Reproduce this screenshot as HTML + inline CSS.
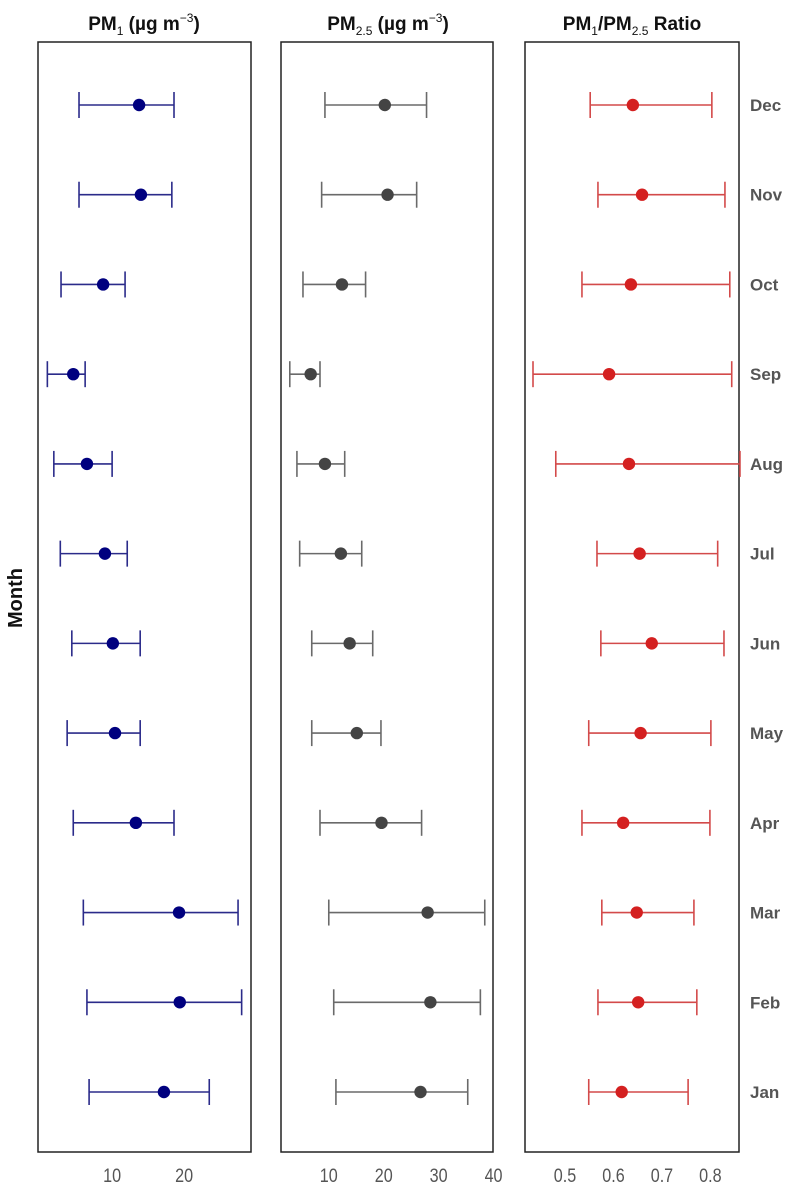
<!DOCTYPE html>
<html><head><meta charset="utf-8"><style>
body{margin:0;background:#fff;}
svg{display:block;font-family:"Liberation Sans",sans-serif;}
</style></head><body>
<svg id="chart" width="800" height="1191">
<text x="22" y="598" transform="rotate(-90 22 598)" text-anchor="middle" font-size="20" font-weight="bold" fill="#111">Month</text>
<text x="144" y="30" text-anchor="middle" font-size="19" font-weight="bold" fill="#111">PM<tspan font-size="12" font-weight="normal" dy="5">1</tspan><tspan dy="-5"> (µg m</tspan><tspan font-size="12" font-weight="normal" dy="-8">−3</tspan><tspan dy="8">)</tspan></text>
<text x="388" y="30" text-anchor="middle" font-size="19" font-weight="bold" fill="#111">PM<tspan font-size="12" font-weight="normal" dy="5">2.5</tspan><tspan dy="-5"> (µg m</tspan><tspan font-size="12" font-weight="normal" dy="-8">−3</tspan><tspan dy="8">)</tspan></text>
<text x="632" y="30" text-anchor="middle" font-size="19" font-weight="bold" fill="#111">PM<tspan font-size="12" font-weight="normal" dy="5">1</tspan><tspan dy="-5">/PM</tspan><tspan font-size="12" font-weight="normal" dy="5">2.5</tspan><tspan dy="-5"> Ratio</tspan></text>
</svg>
<script>
const months = ["Dec","Nov","Oct","Sep","Aug","Jul","Jun","May","Apr","Mar","Feb","Jan"];
const pm1Low  = [5.4,5.4,2.9,1.0,1.9,2.8,4.4,3.75,4.6,6.0,6.5,6.8];
const pm1Mean = [13.75,14.0,8.75,4.6,6.5,9.0,10.1,10.4,13.3,19.3,19.4,17.2];
const pm1High = [18.6,18.3,11.8,6.25,10.0,12.1,13.9,13.9,18.6,27.5,28.0,23.5];
const pm25Low  = [9.3,8.7,5.3,2.9,4.2,4.7,6.9,6.9,8.4,10.0,10.9,11.3];
const pm25Mean = [20.2,20.7,12.4,6.7,9.3,12.2,13.8,15.1,19.6,28.0,28.5,26.7];
const pm25High = [27.8,26.0,16.7,8.4,12.9,16.0,18.0,19.5,26.9,38.4,37.6,35.3];
const ratioLow  = [0.552,0.568,0.535,0.434,0.481,0.566,0.574,0.549,0.535,0.576,0.568,0.549];
const ratioMean = [0.640,0.659,0.636,0.591,0.632,0.654,0.679,0.656,0.620,0.648,0.651,0.617];
const ratioHigh = [0.803,0.830,0.840,0.844,0.861,0.815,0.828,0.801,0.799,0.766,0.772,0.754];
const pm1Ticks = [10,20];
const pm25Ticks = [10,20,30,40];
const ratioTicks = [0.5,0.6,0.7,0.8];

const svg = document.getElementById('chart');
const NS = 'http://www.w3.org/2000/svg';
const top0 = 42, bot0 = 1152;
function yPos(i){ return 105 + i*(1092-105)/(months.length-1); }
function mk(tag, attrs){ const e=document.createElementNS(NS,tag); for(const k in attrs) e.setAttribute(k,attrs[k]); svg.appendChild(e); return e; }

const panels = [
 {name:'pm1', x0:38, x1:251, d0:-0.3, d1:29.3, lo:pm1Low, mean:pm1Mean, hi:pm1High, ticks:pm1Ticks, line:'#2b2b8a', pt:'#00007f', fmt:v=>String(v)},
 {name:'pm25', x0:281, x1:493, d0:1.3, d1:39.9, lo:pm25Low, mean:pm25Mean, hi:pm25High, ticks:pm25Ticks, line:'#6a6a6a', pt:'#444444', fmt:v=>String(v)},
 {name:'ratio', x0:525, x1:739, d0:0.4175, d1:0.859, lo:ratioLow, mean:ratioMean, hi:ratioHigh, ticks:ratioTicks, line:'#d34a4a', pt:'#d42020', fmt:v=>v.toFixed(1)}
];
panels.forEach(p=>{
  const sx = v => p.x0 + (v-p.d0)/(p.d1-p.d0)*(p.x1-p.x0);
  const r = mk('rect',{x:p.x0,y:top0,width:p.x1-p.x0,height:bot0-top0,fill:'none',stroke:'#222','stroke-width':1.5});
  
  
  p.ticks.forEach(t=>{
    const cx = sx(t);
    const tx = mk('text',{x:0,y:0,transform:'translate('+cx+',1182) scale(0.85,1)','text-anchor':'middle','font-size':19,fill:'#555'});
    tx.textContent = p.fmt(t);
    
    
  });
  months.forEach((m,i)=>{
    const y = yPos(i);
    const g = document.createElementNS(NS,'g'); svg.appendChild(g);
    
    
    const a = sx(p.lo[i]), b = sx(p.hi[i]);
    [[a,y,b,y],[a,y-13,a,y+13],[b,y-13,b,y+13]].forEach(c=>{
      const l=document.createElementNS(NS,'line');
      l.setAttribute('x1',c[0]);l.setAttribute('y1',c[1]);l.setAttribute('x2',c[2]);l.setAttribute('y2',c[3]);
      l.setAttribute('stroke',p.line);l.setAttribute('stroke-width',1.6);
      g.appendChild(l);
    });
    const c = mk('circle',{cx:sx(p.mean[i]),cy:y,r:6.2,fill:p.pt});
    
    
  });
});
months.forEach((m,i)=>{
  const t = mk('text',{x:750,y:yPos(i)+6,'font-size':17,'font-weight':'bold',fill:'#555'});
  t.textContent = m;
  
  
});
</script>
</body></html>
